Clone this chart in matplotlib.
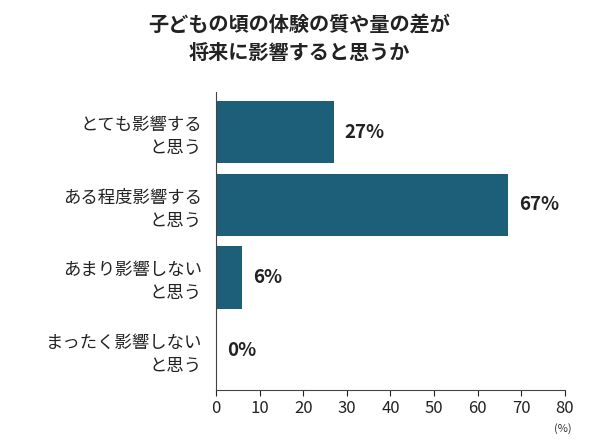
import matplotlib.pyplot as plt

plt.rcParams['font.family'] = ['Noto Sans CJK JP', 'DejaVu Sans']

categories = ["とても影響する\nと思う", "ある程度影響する\nと思う", "あまり影響しない\nと思う", "まったく影響しない\nと思う"]
values = [27, 67, 6, 0]
labels = ["27%", "67%", "6%", "0%"]

fig = plt.figure(figsize=(5.99, 4.43), dpi=100)
ax = fig.add_axes([0.3606, 0.1196, 0.5826, 0.672])

y = list(range(len(values)))
ax.barh(y, values, height=0.86, color="#1d5e78")
for yi, v, lab in zip(y, values, labels):
    ax.text(v + 2.5, yi, lab, va="center", ha="left", fontsize=13.5, fontweight="bold", color="#222222")

ax.set_yticks(y)
ax.set_yticklabels(categories, fontsize=12.5, color="#222222", linespacing=1.35)
ax.set_ylim(3.55, -0.55)
ax.set_xlim(0, 80)
ax.set_xticks(range(0, 81, 10))
ax.tick_params(axis="x", labelsize=12, colors="#222222", length=4)
ax.tick_params(axis="y", length=0, pad=10)
for s in ["top", "right"]:
    ax.spines[s].set_visible(False)
ax.spines["left"].set_color("#444444")
ax.spines["bottom"].set_color("#444444")

fig.text(0.94, 0.025, "(%)", fontsize=8, ha="center", color="#333333")
fig.text(0.5, 0.97, "子どもの頃の体験の質や量の差が\n将来に影響すると思うか", ha="center", va="top",
         fontsize=14.5, fontweight="bold", color="#222222", linespacing=1.45)

fig.savefig("out.png", dpi=100)
